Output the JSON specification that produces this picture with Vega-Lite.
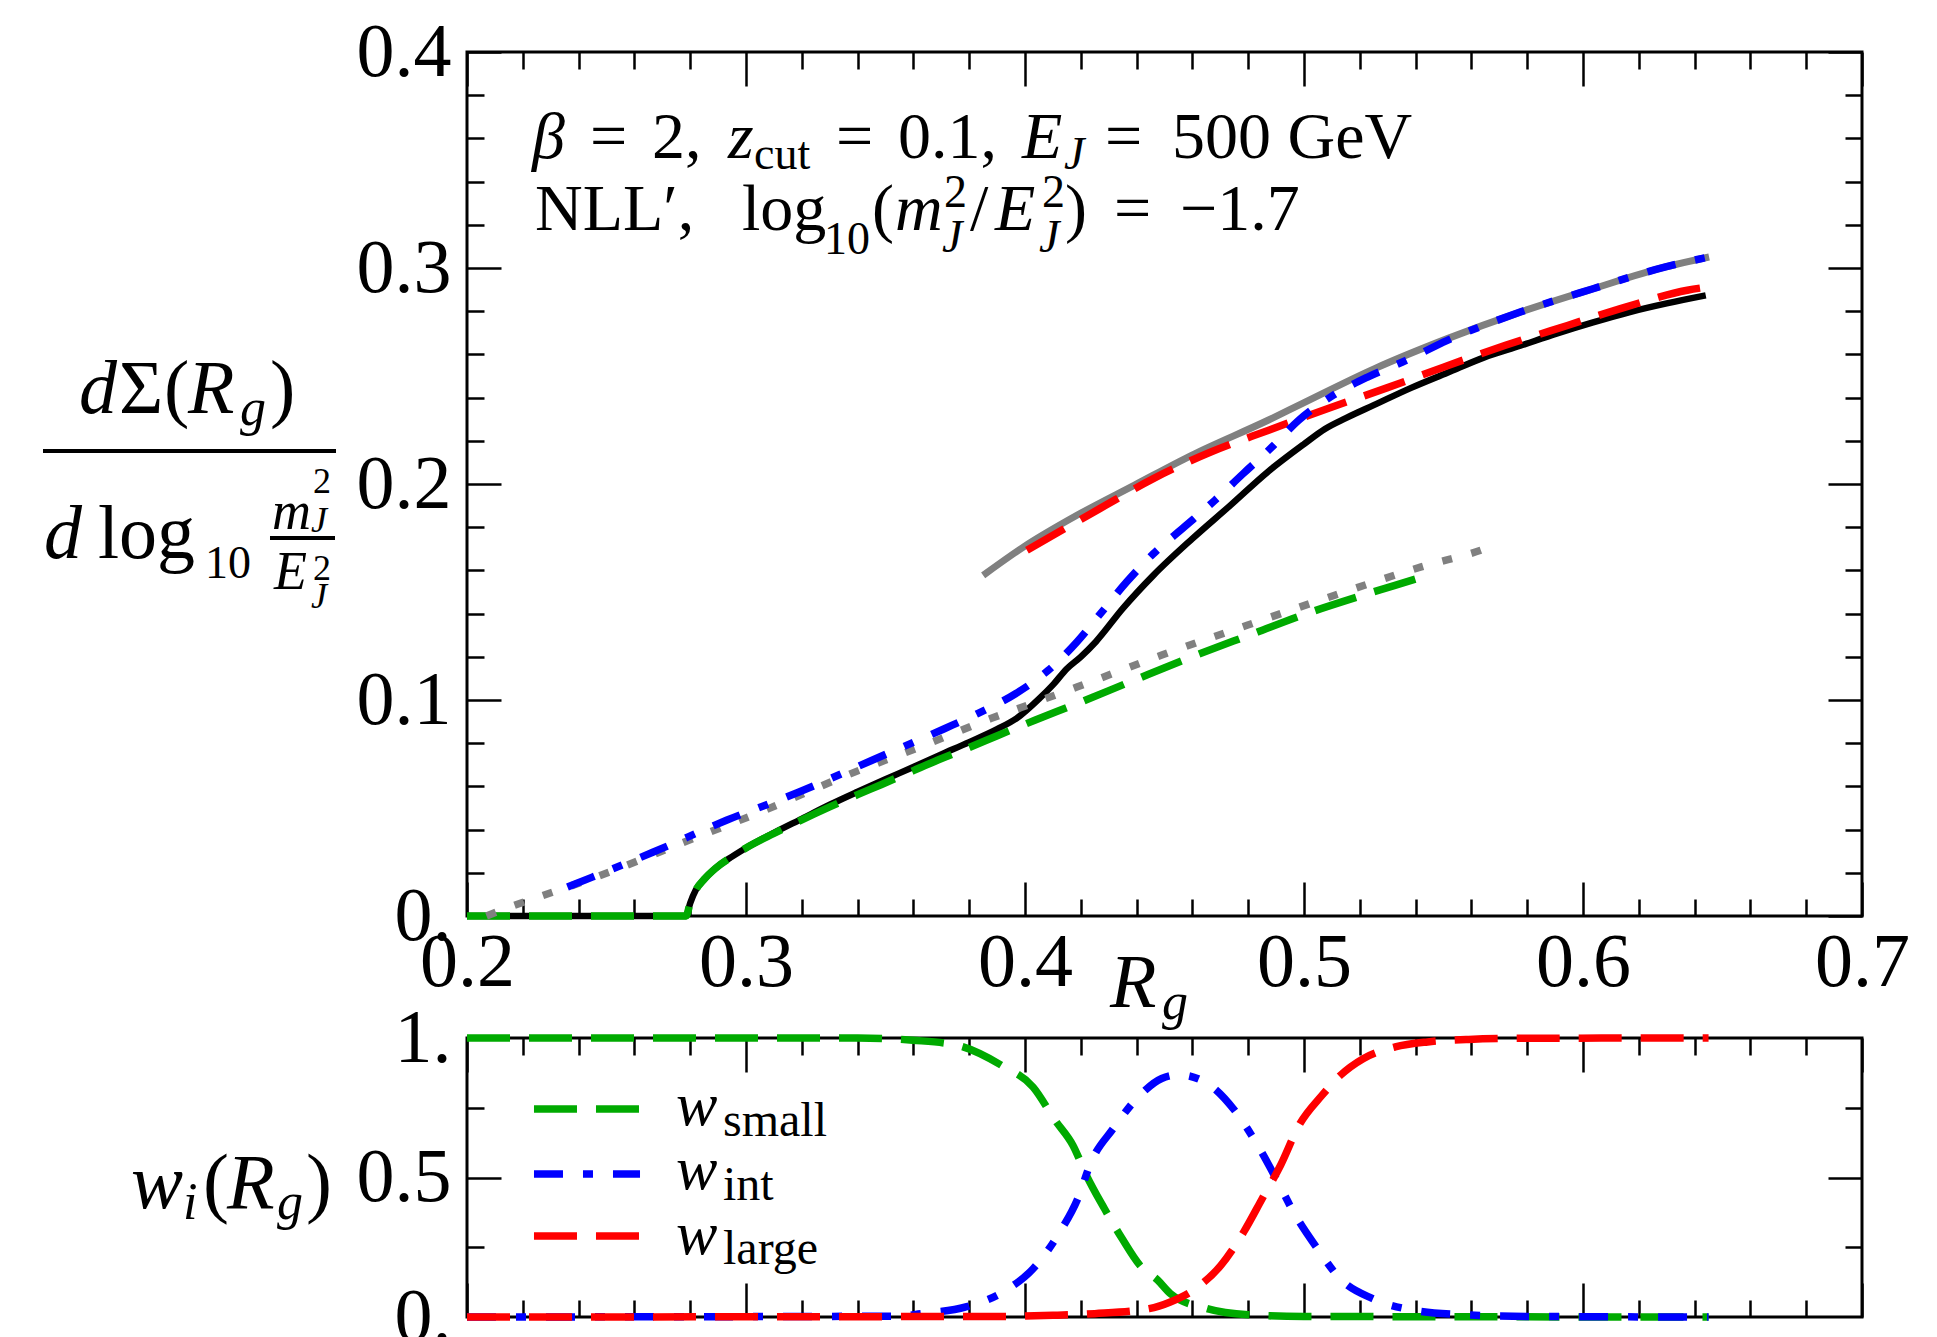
{
"$schema":"https://vega.github.io/schema/vega-lite/v6.json",
"background":"white",
"padding":{"left":39,"top":12,"right":5,"bottom":0},
"datasets":{
"black":[{"R":0.2,"v":0},{"R":0.2785,"v":0},{"R":0.28,"v":0.006},{"R":0.282,"v":0.012},{"R":0.285,"v":0.017},{"R":0.289,"v":0.022},{"R":0.295,"v":0.0275},{"R":0.3,"v":0.0315},{"R":0.31,"v":0.0385},{"R":0.32,"v":0.045},{"R":0.33,"v":0.0515},{"R":0.34,"v":0.0575},{"R":0.35,"v":0.0633},{"R":0.36,"v":0.069},{"R":0.37,"v":0.0748},{"R":0.38,"v":0.0805},{"R":0.39,"v":0.0865},{"R":0.397,"v":0.0915},{"R":0.405,"v":0.1005},{"R":0.41,"v":0.107},{"R":0.415,"v":0.1145},{"R":0.42,"v":0.12},{"R":0.4254,"v":0.127},{"R":0.435,"v":0.1423},{"R":0.446,"v":0.1577},{"R":0.46,"v":0.1747},{"R":0.4735,"v":0.19},{"R":0.487,"v":0.2056},{"R":0.5,"v":0.2185},{"R":0.5075,"v":0.2255},{"R":0.515,"v":0.2305},{"R":0.525,"v":0.2365},{"R":0.5384,"v":0.2445},{"R":0.5514,"v":0.2515},{"R":0.5644,"v":0.2585},{"R":0.5775,"v":0.264},{"R":0.5905,"v":0.2696},{"R":0.6036,"v":0.2748},{"R":0.6168,"v":0.2796},{"R":0.63,"v":0.2836},{"R":0.644,"v":0.2873}],
"graysolid":[{"R":0.385,"v":0.1577},{"R":0.3994,"v":0.1708},{"R":0.4186,"v":0.1855},{"R":0.4391,"v":0.1994},{"R":0.4597,"v":0.2133},{"R":0.4871,"v":0.2295},{"R":0.4993,"v":0.2372},{"R":0.5253,"v":0.2534},{"R":0.5514,"v":0.2673},{"R":0.5775,"v":0.2796},{"R":0.6036,"v":0.2904},{"R":0.6296,"v":0.3005},{"R":0.6452,"v":0.3051}],
"green":[{"R":0.2,"v":0},{"R":0.2785,"v":0},{"R":0.28,"v":0.006},{"R":0.282,"v":0.012},{"R":0.285,"v":0.017},{"R":0.289,"v":0.022},{"R":0.295,"v":0.0275},{"R":0.3,"v":0.0315},{"R":0.31,"v":0.0382},{"R":0.32,"v":0.0445},{"R":0.33,"v":0.0505},{"R":0.34,"v":0.0562},{"R":0.3484,"v":0.0608},{"R":0.36,"v":0.0673},{"R":0.369,"v":0.0723},{"R":0.38,"v":0.078},{"R":0.3903,"v":0.0836},{"R":0.4035,"v":0.0906},{"R":0.4186,"v":0.0983},{"R":0.439,"v":0.1091},{"R":0.4597,"v":0.1199},{"R":0.4803,"v":0.13},{"R":0.5009,"v":0.14},{"R":0.5228,"v":0.1492},{"R":0.5441,"v":0.1577},{"R":0.546,"v":0.1585}],
"dotted":[{"R":0.207,"v":0},{"R":0.2154,"v":0.0042},{"R":0.2257,"v":0.0088},{"R":0.2462,"v":0.018},{"R":0.2765,"v":0.0335},{"R":0.3066,"v":0.0489},{"R":0.3368,"v":0.0655},{"R":0.367,"v":0.0806},{"R":0.3877,"v":0.0914},{"R":0.3986,"v":0.0965},{"R":0.4186,"v":0.106},{"R":0.4488,"v":0.1207},{"R":0.4796,"v":0.1346},{"R":0.511,"v":0.1485},{"R":0.542,"v":0.1616},{"R":0.5633,"v":0.1693},{"R":0.566,"v":0.1705}],
"red":[{"R":0.4007,"v":0.1693},{"R":0.4268,"v":0.1886},{"R":0.446,"v":0.2025},{"R":0.4666,"v":0.2148},{"R":0.4871,"v":0.2248},{"R":0.5091,"v":0.2352},{"R":0.5297,"v":0.2445},{"R":0.5502,"v":0.2542},{"R":0.5722,"v":0.2642},{"R":0.5944,"v":0.2734},{"R":0.6152,"v":0.2819},{"R":0.6374,"v":0.2897},{"R":0.6446,"v":0.2912}],
"blue":[{"R":0.236,"v":0.0134},{"R":0.2449,"v":0.018},{"R":0.2668,"v":0.0296},{"R":0.293,"v":0.0443},{"R":0.319,"v":0.0574},{"R":0.345,"v":0.072},{"R":0.3711,"v":0.0867},{"R":0.383,"v":0.0937},{"R":0.3966,"v":0.1029},{"R":0.4083,"v":0.1137},{"R":0.4186,"v":0.1269},{"R":0.4275,"v":0.1407},{"R":0.4364,"v":0.1546},{"R":0.446,"v":0.1677},{"R":0.457,"v":0.18},{"R":0.468,"v":0.1924},{"R":0.4782,"v":0.2048},{"R":0.4885,"v":0.2171},{"R":0.4981,"v":0.2295},{"R":0.5104,"v":0.241},{"R":0.5228,"v":0.2495},{"R":0.5366,"v":0.2572},{"R":0.5514,"v":0.2665},{"R":0.5775,"v":0.2796},{"R":0.6036,"v":0.2904},{"R":0.6296,"v":0.3005},{"R":0.6452,"v":0.3051}],
"wsmall":[{"R":0.2,"w":1},{"R":0.34,"w":1},{"R":0.3598,"w":0.992},{"R":0.3756,"w":0.974},{"R":0.3916,"w":0.902},{"R":0.4029,"w":0.824},{"R":0.4108,"w":0.705},{"R":0.4172,"w":0.615},{"R":0.422,"w":0.508},{"R":0.4285,"w":0.388},{"R":0.4348,"w":0.281},{"R":0.4412,"w":0.185},{"R":0.4477,"w":0.131},{"R":0.4521,"w":0.084},{"R":0.4652,"w":0.03},{"R":0.48,"w":0.008},{"R":0.5,"w":0.002},{"R":0.645,"w":0}],
"wint":[{"R":0.2,"w":0},{"R":0.355,"w":0.003},{"R":0.3627,"w":0.012},{"R":0.3788,"w":0.036},{"R":0.3932,"w":0.096},{"R":0.4029,"w":0.173},{"R":0.4125,"w":0.305},{"R":0.4189,"w":0.424},{"R":0.4237,"w":0.556},{"R":0.4316,"w":0.675},{"R":0.4412,"w":0.795},{"R":0.449,"w":0.855},{"R":0.455,"w":0.868},{"R":0.4652,"w":0.838},{"R":0.4751,"w":0.741},{"R":0.4834,"w":0.615},{"R":0.49,"w":0.496},{"R":0.4966,"w":0.37},{"R":0.5048,"w":0.245},{"R":0.513,"w":0.137},{"R":0.5246,"w":0.066},{"R":0.5394,"w":0.024},{"R":0.5574,"w":0.008},{"R":0.58,"w":0.002},{"R":0.645,"w":0}],
"wlarge":[{"R":0.2,"w":0},{"R":0.39,"w":0.002},{"R":0.41,"w":0.006},{"R":0.425,"w":0.012},{"R":0.4445,"w":0.03},{"R":0.4521,"w":0.054},{"R":0.462,"w":0.108},{"R":0.4702,"w":0.185},{"R":0.4784,"w":0.305},{"R":0.485,"w":0.424},{"R":0.4916,"w":0.544},{"R":0.4982,"w":0.687},{"R":0.5065,"w":0.795},{"R":0.513,"w":0.866},{"R":0.5212,"w":0.926},{"R":0.5327,"w":0.968},{"R":0.5443,"w":0.986},{"R":0.559,"w":0.995},{"R":0.58,"w":0.999},{"R":0.645,"w":1}],
"t66u":[{"R":0.24409,"v":0.35093,"t":"="},{"R":0.26631,"v":0.35093,"t":"2,"},{"R":0.33226,"v":0.35093,"t":"="},{"R":0.35448,"v":0.35093,"t":"0.1,"},{"R":0.42867,"v":0.35093,"t":"="},{"R":0.45269,"v":0.35093,"t":"500 GeV"},{"R":0.22437,"v":0.31759,"t":"NLL′,"},{"R":0.29857,"v":0.31759,"t":"log"},{"R":0.34516,"v":0.31759,"t":"("},{"R":0.38029,"v":0.31759,"t":"/"},{"R":0.41434,"v":0.31759,"t":")"},{"R":0.4319,"v":0.31759,"t":"="},{"R":0.45556,"v":0.31759,"t":"−1.7"}],
"t66i":[{"R":0.2233,"v":0.35093,"t":"β"},{"R":0.29355,"v":0.35093,"t":"z"},{"R":0.39892,"v":0.35093,"t":"E"},{"R":0.35341,"v":0.31759,"t":"m"},{"R":0.38925,"v":0.31759,"t":"E"}],
"t46u":[{"R":0.30287,"v":0.34583,"t":"cut"},{"R":0.32796,"v":0.30648,"t":"10"},{"R":0.37097,"v":0.32824,"t":"2"},{"R":0.40609,"v":0.32824,"t":"2"},{"R":0.10609,"v":0.15648,"t":"10"}],
"t46i":[{"R":0.41398,"v":0.34583,"t":"J"},{"R":0.37025,"v":0.30741,"t":"J"},{"R":0.40502,"v":0.30741,"t":"J"}],
"t76u":[{"R":0.06774,"v":0.16574,"t":"log"},{"R":0.07527,"v":0.23287,"t":"Σ"},{"R":0.0914,"v":0.23287,"t":"("},{"R":0.12939,"v":0.23287,"t":")"}],
"t76i":[{"R":0.04839,"v":0.16574,"t":"d"},{"R":0.43047,"v":-0.04213,"t":"R"},{"R":0.06093,"v":0.23287,"t":"d"},{"R":0.1,"v":0.23287,"t":"R"}],
"t52i":[{"R":0.4491,"v":-0.04769,"t":"g"},{"R":0.11864,"v":0.22731,"t":"g"}],
"t54i":[{"R":0.13011,"v":0.17917,"t":"m"},{"R":0.13082,"v":0.15139,"t":"E"}],
"t36u":[{"R":0.1448,"v":0.19583,"t":"2"},{"R":0.1448,"v":0.15556,"t":"2"}],
"t36i":[{"R":0.14409,"v":0.17778,"t":"J"},{"R":0.14409,"v":0.14259,"t":"J"}],
"bars":[{"R":0.04803,"R2":0.15305,"v":0.21528},{"R":0.12939,"R2":0.15269,"v":0.175}],
"b78i":[{"R":0.07957,"w":0.39068,"t":"w"},{"R":0.11398,"w":0.39068,"t":"R"}],
"b78u":[{"R":0.10538,"w":0.39068,"t":"("},{"R":0.14229,"w":0.39068,"t":")"}],
"b52i":[{"R":0.09821,"w":0.35125,"t":"i"},{"R":0.1319,"w":0.35125,"t":"g"}],
"b62i":[{"R":0.27491,"w":0.68817,"t":"w"},{"R":0.27491,"w":0.45878,"t":"w"},{"R":0.27491,"w":0.22581,"t":"w"}],
"b48u":[{"R":0.29176,"w":0.64875,"t":"small"},{"R":0.29176,"w":0.41935,"t":"int"},{"R":0.29176,"w":0.18996,"t":"large"}],
"legG":[{"R":0.22401,"R2":0.26201,"w":0.74552}],
"legB":[{"R":0.22401,"R2":0.26201,"w":0.51254}],
"legR":[{"R":0.22401,"R2":0.26201,"w":0.29032}]
},
"config":{
"view":{"stroke":"black","strokeWidth":3},
"axis":{"grid":false,"domain":false,"labelFont":"Liberation Serif","labelFontSize":76,"labelColor":"black","tickColor":"black","tickWidth":2.5},
"text":{"font":"Liberation Serif","align":"left","baseline":"alphabetic","color":"black"}
},
"vconcat":[
{
"width":1395,"height":864,
"resolve":{"axis":{"x":"independent","y":"independent"}},
"layer":[
{"data":{"name":"black"},"mark":{"type":"line","color":"black","strokeWidth":6.5,"interpolate":"monotone"},
 "encoding":{
 "x":{"field":"R","type":"quantitative","scale":{"domain":[0.2,0.7],"nice":false,"zero":false},"axis":{"orient":"bottom","values":[0.2,0.3,0.4,0.5,0.6,0.7],"ticks":false,"format":".1f","labelPadding":9,"labelFlush":false,"labelOverlap":false,"title":null}},
 "y":{"field":"v","type":"quantitative","scale":{"domain":[0,0.4],"nice":false,"zero":false},"axis":{"orient":"left","values":[0,0.1,0.2,0.3,0.4],"ticks":false,"labelExpr":"datum.value == 0 ? '0.' : format(datum.value, '.1f')","labelPadding":16,"labelFlush":false,"labelOverlap":false,"title":null}}}},
{"data":{"name":"graysolid"},"mark":{"type":"line","color":"#808080","strokeWidth":7,"interpolate":"monotone"},
 "encoding":{
 "x":{"field":"R","type":"quantitative","scale":{"domain":[0.2,0.7],"nice":false,"zero":false},"axis":{"orient":"bottom","values":[0.2,0.3,0.4,0.5,0.6,0.7],"labels":false,"tickSize":-34,"title":null}},
 "y":{"field":"v","type":"quantitative","scale":{"domain":[0,0.4],"nice":false,"zero":false},"axis":{"orient":"left","values":[0,0.1,0.2,0.3,0.4],"labels":false,"tickSize":-34,"title":null}}}},
{"data":{"name":"green"},"mark":{"type":"line","color":"#00AA00","strokeWidth":7.5,"strokeDash":[43,19],"interpolate":"monotone"},
 "encoding":{
 "x":{"field":"R","type":"quantitative","scale":{"domain":[0.2,0.7],"nice":false,"zero":false},"axis":{"orient":"bottom","values":[0.22,0.24,0.26,0.28,0.32,0.34,0.36,0.38,0.42,0.44,0.46,0.48,0.52,0.54,0.56,0.58,0.62,0.64,0.66,0.68],"labels":false,"tickSize":-17,"title":null}},
 "y":{"field":"v","type":"quantitative","scale":{"domain":[0,0.4],"nice":false,"zero":false},"axis":{"orient":"left","values":[0.02,0.04,0.06,0.08,0.12,0.14,0.16,0.18,0.22,0.24,0.26,0.28,0.32,0.34,0.36,0.38],"labels":false,"tickSize":-17,"title":null}}}},
{"data":{"name":"dotted"},"mark":{"type":"line","color":"#808080","strokeWidth":7.5,"strokeDash":[10,20],"interpolate":"monotone"},
 "encoding":{
 "x":{"field":"R","type":"quantitative","scale":{"domain":[0.2,0.7],"nice":false,"zero":false},"axis":{"orient":"top","values":[0.2,0.3,0.4,0.5,0.6,0.7],"labels":false,"tickSize":-34,"title":null}},
 "y":{"field":"v","type":"quantitative","scale":{"domain":[0,0.4],"nice":false,"zero":false},"axis":{"orient":"right","values":[0,0.1,0.2,0.3,0.4],"labels":false,"tickSize":-34,"title":null}}}},
{"data":{"name":"red"},"mark":{"type":"line","color":"#FF0000","strokeWidth":7.5,"strokeDash":[43,19],"interpolate":"monotone"},
 "encoding":{
 "x":{"field":"R","type":"quantitative","scale":{"domain":[0.2,0.7],"nice":false,"zero":false},"axis":{"orient":"top","values":[0.22,0.24,0.26,0.28,0.32,0.34,0.36,0.38,0.42,0.44,0.46,0.48,0.52,0.54,0.56,0.58,0.62,0.64,0.66,0.68],"labels":false,"tickSize":-17,"title":null}},
 "y":{"field":"v","type":"quantitative","scale":{"domain":[0,0.4],"nice":false,"zero":false},"axis":{"orient":"right","values":[0.02,0.04,0.06,0.08,0.12,0.14,0.16,0.18,0.22,0.24,0.26,0.28,0.32,0.34,0.36,0.38],"labels":false,"tickSize":-17,"title":null}}}},
{"data":{"name":"blue"},"mark":{"type":"line","color":"#0000FF","strokeWidth":7.5,"strokeDash":[29,20,10,20],"interpolate":"monotone"},
 "encoding":{
 "x":{"field":"R","type":"quantitative","scale":{"domain":[0.2,0.7],"nice":false,"zero":false},"axis":null},
 "y":{"field":"v","type":"quantitative","scale":{"domain":[0,0.4],"nice":false,"zero":false},"axis":null}}},
{"data":{"name":"bars"},"mark":{"type":"rule","color":"black","strokeWidth":4},
 "encoding":{"x":{"field":"R","type":"quantitative","axis":null},"x2":{"field":"R2"},"y":{"field":"v","type":"quantitative","axis":null}}},
{"data":{"name":"t66u"},"mark":{"type":"text","fontSize":66},
 "encoding":{"x":{"field":"R","type":"quantitative","axis":null},"y":{"field":"v","type":"quantitative","axis":null},"text":{"field":"t"}}},
{"data":{"name":"t66i"},"mark":{"type":"text","fontSize":66,"fontStyle":"italic"},
 "encoding":{"x":{"field":"R","type":"quantitative","axis":null},"y":{"field":"v","type":"quantitative","axis":null},"text":{"field":"t"}}},
{"data":{"name":"t46u"},"mark":{"type":"text","fontSize":46},
 "encoding":{"x":{"field":"R","type":"quantitative","axis":null},"y":{"field":"v","type":"quantitative","axis":null},"text":{"field":"t"}}},
{"data":{"name":"t46i"},"mark":{"type":"text","fontSize":46,"fontStyle":"italic"},
 "encoding":{"x":{"field":"R","type":"quantitative","axis":null},"y":{"field":"v","type":"quantitative","axis":null},"text":{"field":"t"}}},
{"data":{"name":"t76u"},"mark":{"type":"text","fontSize":76},
 "encoding":{"x":{"field":"R","type":"quantitative","axis":null},"y":{"field":"v","type":"quantitative","axis":null},"text":{"field":"t"}}},
{"data":{"name":"t76i"},"mark":{"type":"text","fontSize":76,"fontStyle":"italic"},
 "encoding":{"x":{"field":"R","type":"quantitative","axis":null},"y":{"field":"v","type":"quantitative","axis":null},"text":{"field":"t"}}},
{"data":{"name":"t52i"},"mark":{"type":"text","fontSize":52,"fontStyle":"italic"},
 "encoding":{"x":{"field":"R","type":"quantitative","axis":null},"y":{"field":"v","type":"quantitative","axis":null},"text":{"field":"t"}}},
{"data":{"name":"t54i"},"mark":{"type":"text","fontSize":54,"fontStyle":"italic"},
 "encoding":{"x":{"field":"R","type":"quantitative","axis":null},"y":{"field":"v","type":"quantitative","axis":null},"text":{"field":"t"}}},
{"data":{"name":"t36u"},"mark":{"type":"text","fontSize":36},
 "encoding":{"x":{"field":"R","type":"quantitative","axis":null},"y":{"field":"v","type":"quantitative","axis":null},"text":{"field":"t"}}},
{"data":{"name":"t36i"},"mark":{"type":"text","fontSize":36,"fontStyle":"italic"},
 "encoding":{"x":{"field":"R","type":"quantitative","axis":null},"y":{"field":"v","type":"quantitative","axis":null},"text":{"field":"t"}}}
]
},
{
"width":1395,"height":279,
"resolve":{"axis":{"x":"independent","y":"independent"}},
"layer":[
{"data":{"name":"wsmall"},"mark":{"type":"line","color":"#00AA00","strokeWidth":7.5,"strokeDash":[43,19],"interpolate":"monotone"},
 "encoding":{
 "x":{"field":"R","type":"quantitative","scale":{"domain":[0.2,0.7],"nice":false,"zero":false},"axis":{"orient":"bottom","values":[0.2,0.3,0.4,0.5,0.6,0.7],"labels":false,"tickSize":-34,"title":null}},
 "y":{"field":"w","type":"quantitative","scale":{"domain":[0,1],"nice":false,"zero":false},"axis":{"orient":"left","values":[0,0.5,1],"ticks":false,"labelExpr":"datum.value == 0 ? '0.' : (datum.value == 1 ? '1.' : '0.5')","labelPadding":16,"labelFlush":false,"labelOverlap":false,"title":null}}}},
{"data":{"name":"wint"},"mark":{"type":"line","color":"#0000FF","strokeWidth":7.5,"strokeDash":[29,20,10,20],"interpolate":"monotone"},
 "encoding":{
 "x":{"field":"R","type":"quantitative","scale":{"domain":[0.2,0.7],"nice":false,"zero":false},"axis":{"orient":"bottom","values":[0.22,0.24,0.26,0.28,0.32,0.34,0.36,0.38,0.42,0.44,0.46,0.48,0.52,0.54,0.56,0.58,0.62,0.64,0.66,0.68],"labels":false,"tickSize":-17,"title":null}},
 "y":{"field":"w","type":"quantitative","scale":{"domain":[0,1],"nice":false,"zero":false},"axis":{"orient":"left","values":[0.5],"labels":false,"tickSize":-34,"title":null}}}},
{"data":{"name":"wlarge"},"mark":{"type":"line","color":"#FF0000","strokeWidth":7.5,"strokeDash":[43,19],"interpolate":"monotone"},
 "encoding":{
 "x":{"field":"R","type":"quantitative","scale":{"domain":[0.2,0.7],"nice":false,"zero":false},"axis":{"orient":"top","values":[0.2,0.3,0.4,0.5,0.6,0.7],"labels":false,"tickSize":-34,"title":null}},
 "y":{"field":"w","type":"quantitative","scale":{"domain":[0,1],"nice":false,"zero":false},"axis":{"orient":"left","values":[0.25,0.75],"labels":false,"tickSize":-17,"title":null}}}},
{"data":{"name":"legG"},"mark":{"type":"rule","color":"#00AA00","strokeWidth":7.5,"strokeDash":[43,19]},
 "encoding":{
 "x":{"field":"R","type":"quantitative","axis":{"orient":"top","values":[0.22,0.24,0.26,0.28,0.32,0.34,0.36,0.38,0.42,0.44,0.46,0.48,0.52,0.54,0.56,0.58,0.62,0.64,0.66,0.68],"labels":false,"tickSize":-17,"title":null}},
 "x2":{"field":"R2"},
 "y":{"field":"w","type":"quantitative","axis":{"orient":"right","values":[0.5],"labels":false,"tickSize":-34,"title":null}}}},
{"data":{"name":"legB"},"mark":{"type":"rule","color":"#0000FF","strokeWidth":7.5,"strokeDash":[29,20,10,20]},
 "encoding":{
 "x":{"field":"R","type":"quantitative","axis":null},
 "x2":{"field":"R2"},
 "y":{"field":"w","type":"quantitative","axis":{"orient":"right","values":[0.25,0.75],"labels":false,"tickSize":-17,"title":null}}}},
{"data":{"name":"legR"},"mark":{"type":"rule","color":"#FF0000","strokeWidth":7.5,"strokeDash":[43,19]},
 "encoding":{"x":{"field":"R","type":"quantitative","axis":null},"x2":{"field":"R2"},"y":{"field":"w","type":"quantitative","axis":null}}},
{"data":{"name":"b78i"},"mark":{"type":"text","fontSize":78,"fontStyle":"italic"},
 "encoding":{"x":{"field":"R","type":"quantitative","axis":null},"y":{"field":"w","type":"quantitative","axis":null},"text":{"field":"t"}}},
{"data":{"name":"b78u"},"mark":{"type":"text","fontSize":78},
 "encoding":{"x":{"field":"R","type":"quantitative","axis":null},"y":{"field":"w","type":"quantitative","axis":null},"text":{"field":"t"}}},
{"data":{"name":"b52i"},"mark":{"type":"text","fontSize":52,"fontStyle":"italic"},
 "encoding":{"x":{"field":"R","type":"quantitative","axis":null},"y":{"field":"w","type":"quantitative","axis":null},"text":{"field":"t"}}},
{"data":{"name":"b62i"},"mark":{"type":"text","fontSize":62,"fontStyle":"italic"},
 "encoding":{"x":{"field":"R","type":"quantitative","axis":null},"y":{"field":"w","type":"quantitative","axis":null},"text":{"field":"t"}}},
{"data":{"name":"b48u"},"mark":{"type":"text","fontSize":48},
 "encoding":{"x":{"field":"R","type":"quantitative","axis":null},"y":{"field":"w","type":"quantitative","axis":null},"text":{"field":"t"}}}
]
}
],
"spacing":122,
"bounds":"flush"
}
